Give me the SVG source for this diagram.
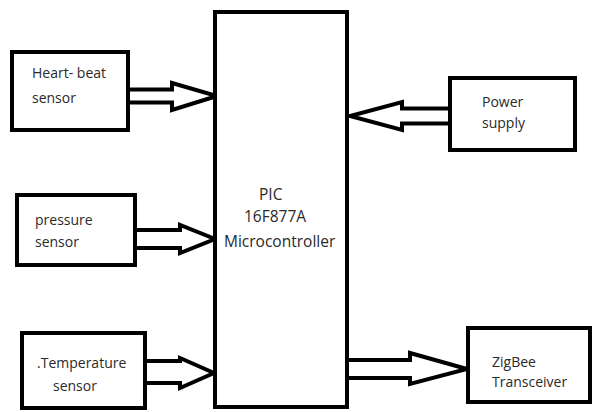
<svg xmlns="http://www.w3.org/2000/svg" width="593" height="412" viewBox="0 0 593 412">
<style>
.box{fill:#fff;stroke:#000;stroke-width:4}
.arr{fill:#fff;stroke:#000;stroke-width:4;stroke-linejoin:miter}
.t{font-family:"Open Sans","Liberation Sans",Arial,sans-serif;font-size:14px;fill:#2a2a2a}
.m{font-size:15.5px}
</style>
<rect width="593" height="412" fill="#fff"/>
<g id="connectors">
<polygon class="arr" points="126,89.5 172,89.5 172,83 217,96 172,110 172,102.5 126,102.5"/>
<polygon class="arr" points="133,230 180,230 180,225 215,239 180,253 180,248 133,248"/>
<polygon class="arr" points="143,361 180,361 180,358 214,373 180,388 180,383 143,383"/>
<polygon class="arr" points="452,108.5 402,108.5 402,102 350,116 402,130 402,123.5 452,123.5"/>
<polygon class="arr" points="347,360 410,360 410,353 467,369 410,384 410,378 347,378"/>
</g>
<g id="mcu">
<rect class="box" x="215" y="12" width="132" height="395"/>
<text class="t m" x="259" y="200">PIC</text>
<text class="t m" x="244" y="222">16F877A</text>
<text class="t m" x="224" y="247">Microcontroller</text>
</g>
<g id="heartbeat">
<rect class="box" x="12" y="52" width="116" height="78"/>
<text class="t" x="32" y="78">Heart- beat</text>
<text class="t" x="32" y="103">sensor</text>
</g>
<g id="pressure">
<rect class="box" x="17" y="195" width="118" height="70"/>
<text class="t" x="35" y="225">pressure</text>
<text class="t" x="35" y="247">sensor</text>
</g>
<g id="temperature">
<rect class="box" x="22" y="333" width="123" height="75"/>
<text class="t" x="37" y="368">.Temperature</text>
<text class="t" x="53" y="391">sensor</text>
</g>
<g id="power">
<rect class="box" x="450" y="78" width="125" height="72"/>
<text class="t" x="482" y="107">Power</text>
<text class="t" x="482" y="128">supply</text>
</g>
<g id="zigbee">
<rect class="box" x="468" y="328" width="122" height="74"/>
<text class="t" x="492" y="367">ZigBee</text>
<text class="t" x="492" y="387">Transceiver</text>
</g>
</svg>
